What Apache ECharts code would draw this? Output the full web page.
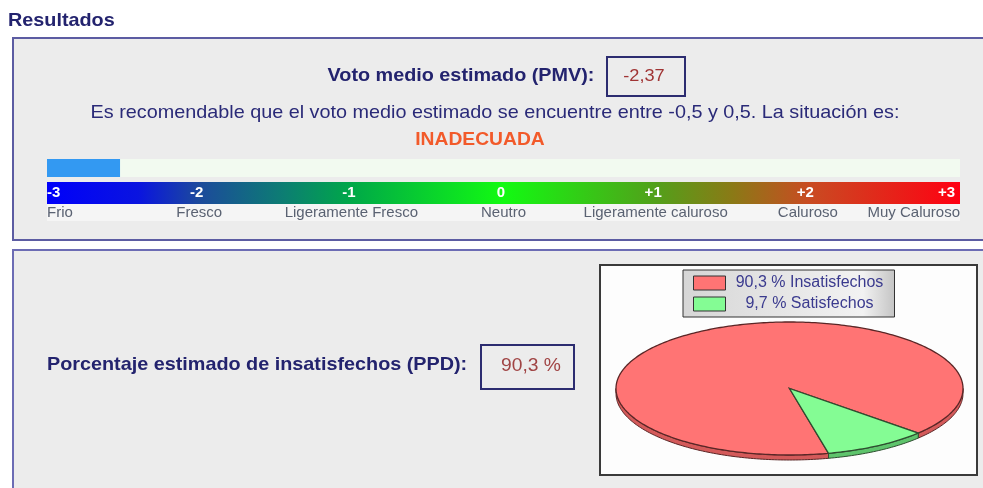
<!DOCTYPE html>
<html><head><meta charset="utf-8">
<script src="https://cdn.jsdelivr.net/npm/echarts@6/dist/echarts.min.js"></script>
<style>html,body{margin:0;padding:0;background:#fff}#c{width:983px;height:488px}</style>
</head><body><div id="c"></div>
<script>
// ---- data ----
const pmvText = '-2,37';
const pmvBar = [-2.52];           // length of the blue indicator as drawn
const scaleValues = [-3, -2, -1, 0, 1, 2, 3];
const scaleTicks = ['-3', '-2', '-1', '0', '+1', '+2', '+3'];
const scaleWords = ['Frio', 'Fresco', 'Ligeramente Fresco', 'Neutro', 'Ligeramente caluroso', 'Caluroso', 'Muy Caluroso'];
const situation = 'INADECUADA';
const ppdText = '90,3 %';
const pieNames = ['Insatisfechos', 'Satisfechos'];
const pieValues = [90.3, 9.7];

// ---- layout / style ----
const FONT = '"Liberation Sans", Arial, sans-serif';
const SX = 1.07;
const NAVY = '#23236e';
const PIE = {cx: 789.5, cy: 388.5, rx: 173.5, ry: 66.5, depth: 5, start: 77};
const pieFill = ['#ff7474', '#84fc94'];
const pieRim = ['#d45a5a', '#5ec46c'];
const pieStroke = ['#5a2626', '#2e4e30'];
const total = pieValues.reduce((a, b) => a + b, 0);

function idxOf(v) { return scaleValues.indexOf(Math.round(v)); }
function arcPts(a, b, dy) {
  const pts = [];
  const n = Math.max(2, Math.ceil(Math.abs(b - a)));
  for (let i = 0; i <= n; i++) {
    const t = (a + (b - a) * i / n) * Math.PI / 180;
    pts.push([PIE.cx + PIE.rx * Math.cos(t), PIE.cy + PIE.ry * Math.sin(t) + dy]);
  }
  return pts;
}
function sliceRender(si) {
  return function (params, api) {
    let start = PIE.start;
    for (let k = 0; k < si; k++) start += pieValues[k] / total * 360;
    const end = start + api.value(0) / total * 360;
    const children = [];
    for (let k = 0; k < 2; k++) {
      const lo = Math.max(start, 360 * k), hi = Math.min(end, 360 * k + 180);
      if (hi > lo) {
        children.push({type: 'polygon', shape: {points: arcPts(lo, hi, 0).concat(arcPts(hi, lo, PIE.depth))},
          style: {fill: pieRim[si], stroke: pieStroke[si], lineWidth: 1}});
      }
    }
    children.push({type: 'polygon', shape: {points: [[PIE.cx, PIE.cy]].concat(arcPts(start, end, 0))},
      style: {fill: pieFill[si], stroke: pieStroke[si], lineWidth: 1.3}});
    return {type: 'group', children: children};
  };
}
function txt(x, y, text, font, fill, align) {
  return {type: 'text', x: x, y: y, scaleX: SX, z: 20,
    style: {text: text, font: font, fill: fill, align: align || 'center', verticalAlign: 'middle'}};
}

const chart = echarts.init(document.getElementById('c'), null, {renderer: 'canvas'});
const hiddenY = (g) => ({type: 'category', gridIndex: g, data: [''], show: false});
const labelAxis = (g, fmt, color, bold, off, pad) => ({
  type: 'value', gridIndex: g, min: -3, max: 3, interval: 1, position: 'top', offset: off,
  axisLine: {show: false}, axisTick: {show: false}, splitLine: {show: false},
  axisLabel: {margin: 0, verticalAlign: 'middle', color: color, fontFamily: FONT, fontSize: 15,
    fontWeight: bold ? 'bold' : 'normal', formatter: fmt, alignMinLabel: 'left', alignMaxLabel: 'right',
    showMinLabel: true, showMaxLabel: true, hideOverlap: false, padding: pad}
});

chart.setOption({
  animation: false,
  backgroundColor: '#ffffff',
  textStyle: {fontFamily: FONT},
  graphic: [
    {type: 'rect', z: -10, shape: {x: 13, y: 38, width: 1000, height: 202}, style: {fill: '#ececec', stroke: '#5c5ca2', lineWidth: 2}},
    {type: 'rect', z: -10, shape: {x: 13, y: 250, width: 1000, height: 260}, style: {fill: '#ececec', stroke: '#6c6cb4', lineWidth: 2}},
    {type: 'rect', z: -5, shape: {x: 607, y: 57, width: 78, height: 39}, style: {fill: 'none', stroke: '#2c2c70', lineWidth: 2}},
    {type: 'rect', z: -5, shape: {x: 481, y: 345, width: 93, height: 44}, style: {fill: 'none', stroke: '#2c2c70', lineWidth: 2}},
    {type: 'rect', z: -5, shape: {x: 600, y: 265, width: 377, height: 210}, style: {fill: '#fdfdfd', stroke: '#3a3a3a', lineWidth: 2}},
    txt(8, 21, 'Resultados', 'bold 18.5px ' + FONT, NAVY, 'left'),
    txt(461, 76, 'Voto medio estimado (PMV):', 'bold 18.5px ' + FONT, NAVY),
    txt(644, 76, pmvText, '17px ' + FONT, '#a03434'),
    txt(495, 113, 'Es recomendable que el voto medio estimado se encuentre entre -0,5 y 0,5. La situación es:', '18.5px ' + FONT, '#2a2a78'),
    txt(480, 140, situation, 'bold 18px ' + FONT, '#f25a2a'),
    txt(47, 365, 'Porcentaje estimado de insatisfechos (PPD):', 'bold 18.5px ' + FONT, NAVY, 'left'),
    txt(531, 366, ppdText, '18px ' + FONT, '#a04444')
  ],
  grid: [
    {left: 47, top: 159, width: 913, height: 18, show: true, backgroundColor: '#f2faf0', borderWidth: 0},
    {left: 47, top: 182, width: 913, height: 22, show: true, borderWidth: 0,
      backgroundColor: new echarts.graphic.LinearGradient(0, 0, 1, 0, [
        {offset: 0, color: '#0000fa'}, {offset: 0.1, color: '#0a14e0'}, {offset: 1 / 6, color: '#1c4a9c'},
        {offset: 0.26, color: '#0c7e72'}, {offset: 2 / 6, color: '#00a848'}, {offset: 0.5, color: '#12fa12'},
        {offset: 4 / 6, color: '#52a01a'}, {offset: 0.75, color: '#8a7a16'}, {offset: 5 / 6, color: '#c84c22'},
        {offset: 1, color: '#ff0012'}])},
    {left: 47, top: 204, width: 913, height: 17, show: true, backgroundColor: '#f5f5f5', borderWidth: 0}
  ],
  xAxis: [
    {type: 'value', gridIndex: 0, min: -3, max: 3, show: false},
    labelAxis(1, v => scaleTicks[idxOf(v)], '#ffffff', true, -11, [0, 5, 0, 0]),
    labelAxis(2, v => scaleWords[idxOf(v)], '#5a6272', false, -8.5, 0)
  ],
  yAxis: [hiddenY(0), hiddenY(1), hiddenY(2)],
  legend: {
    data: pieNames, orient: 'vertical', left: 683, top: 270,
    padding: [5, 6, 5, 10], itemGap: 5, itemWidth: 32, itemHeight: 14, icon: 'rect',
    itemStyle: {borderColor: '#333333', borderWidth: 1},
    backgroundColor: new echarts.graphic.LinearGradient(0, 0, 1, 0, [
      {offset: 0, color: '#d6d6d6'}, {offset: 0.85, color: '#f2f2f2'}, {offset: 1, color: '#c4c4c4'}]),
    borderColor: '#333333', borderWidth: 1,
    formatter: name => '{t|' + pieValues[pieNames.indexOf(name)].toFixed(1).replace('.', ',') + ' % ' + name + '}',
    textStyle: {rich: {t: {width: 158, align: 'center', fontSize: 16, lineHeight: 17, color: '#3a3a8e', fontFamily: FONT}}},
    selectedMode: false
  },
  series: [
    {type: 'custom', xAxisIndex: 0, yAxisIndex: 0, data: [[pmvBar[0], 0]],
      renderItem: function (params, api) {
        const s = api.coord([-3, 0]), e = api.coord([api.value(0), 0]);
        const h = api.size([0, 1])[1];
        return {type: 'rect', shape: {x: s[0], y: s[1] - h / 2, width: e[0] - s[0], height: h}, style: {fill: '#3399f2'}};
      }},
    {type: 'custom', name: pieNames[0], coordinateSystem: 'none', data: [[pieValues[0]]],
      itemStyle: {color: pieFill[0]}, renderItem: sliceRender(0)},
    {type: 'custom', name: pieNames[1], coordinateSystem: 'none', data: [[pieValues[1]]],
      itemStyle: {color: pieFill[1]}, renderItem: sliceRender(1)}
  ]
});
</script></body></html>
